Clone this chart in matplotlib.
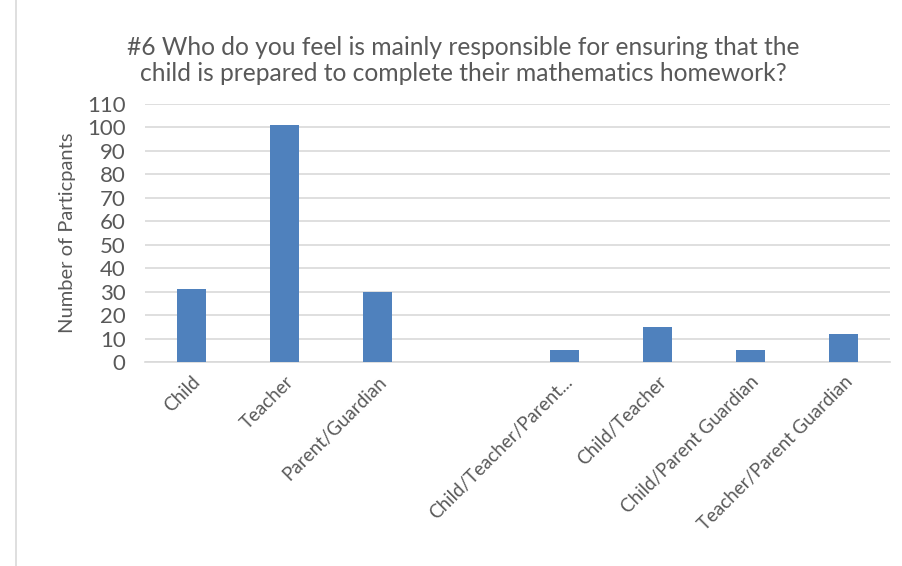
import matplotlib.pyplot as plt

categories = ['Child', 'Teacher', 'Parent/Guardian', '', 'Child/Teacher/Parent...',
              'Child/Teacher', 'Child/Parent Guardian', 'Teacher/Parent Guardian']
participants = [31, 101, 30, 0, 5, 15, 5, 12]
yticks = list(range(0, 111, 10))

plt.rcParams['font.family'] = ['Lato', 'DejaVu Sans']
grey = '#595959'

fig = plt.figure(figsize=(9.03, 5.66), dpi=100)
ax = fig.add_axes([0.1606, 0.3604, 0.825, 0.4559])

x = range(len(categories))
ax.bar(x, participants, width=0.31, color='#4f81bd', zorder=3)

ax.set_xlim(-0.5, len(categories) - 0.5)
ax.set_ylim(0, 110)
ax.set_yticks(yticks)
ax.set_xticks(list(x))
ax.set_xticklabels(categories, rotation=45, ha='right', rotation_mode='anchor',
                   fontsize=13.5, color=grey)
ax.tick_params(axis='y', labelsize=16, labelcolor=grey, length=0, pad=14)
ax.tick_params(axis='x', length=0, pad=8)
ax.grid(axis='y', color='#d9d9d9', linewidth=1.2, zorder=0)
for s in ['top', 'right', 'left']:
    ax.spines[s].set_visible(False)
ax.spines['bottom'].set_color('#d9d9d9')
ax.spines['bottom'].set_linewidth(1.2)

ax.set_ylabel('Number of Particpants', fontsize=14.5, color=grey, labelpad=8)

fig.text(0.513, 0.893, '#6 Who do you feel is mainly responsible for ensuring that the\n'
         'child is prepared to complete their mathematics homework?',
         ha='center', va='center', fontsize=17.7, color=grey, linespacing=1.2)

# chart border on the left edge
fig.add_artist(plt.Line2D([16 / 903, 16 / 903], [0, 1], color='#d9d9d9', lw=1.2))

fig.savefig('out.png', dpi=100)
